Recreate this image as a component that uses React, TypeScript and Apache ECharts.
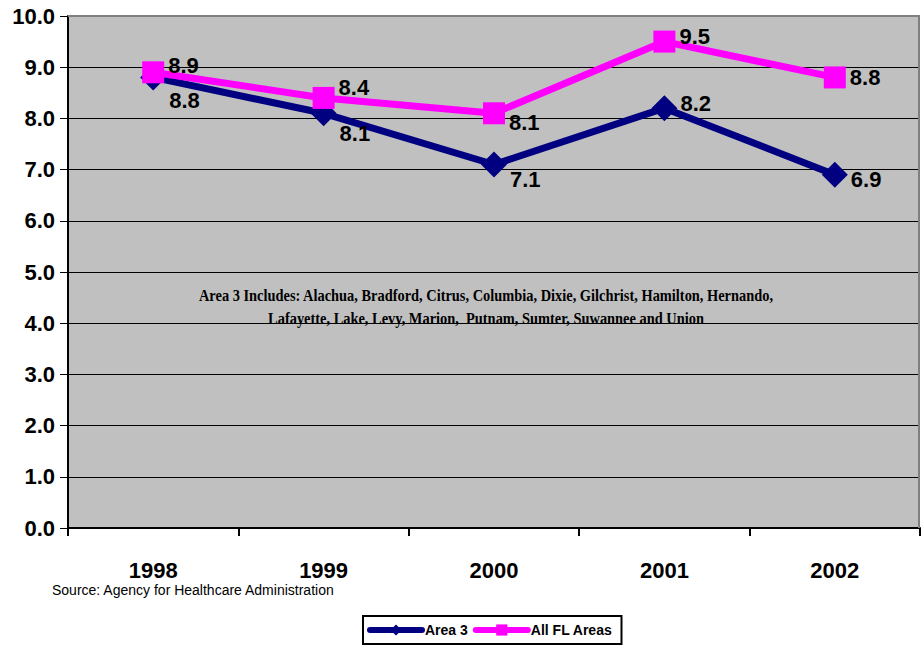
import React, { useEffect, useRef } from "react";
import * as echarts from "echarts";

const years = ["1998", "1999", "2000", "2001", "2002"];
const area3 = [8.8, 8.1, 7.1, 8.2, 6.9];
const allFL = [8.9, 8.4, 8.1, 9.5, 8.8];
const yTicks = [0, 1, 2, 3, 4, 5, 6, 7, 8, 9, 10];
const noteLines = [
  "Area 3 Includes: Alachua, Bradford, Citrus, Columbia, Dixie, Gilchrist, Hamilton, Hernando,",
  "Lafayette, Lake, Levy, Marion,  Putnam, Sumter, Suwannee and Union",
];
const sourceText = "Source: Agency for Healthcare Administration";

// label vertical offsets (styling only)
const area3LabelDy = [23, 20, 15, -5, 5];
const flLabelDy = [-7, -10, 9, -5, 0];

export default function App() {
  const ref = useRef<HTMLDivElement>(null);
  useEffect(() => {
    document.body.style.margin = "0";
    const chart = echarts.init(ref.current!, null, { renderer: "svg" });
    const labelFont = {
      fontFamily: "Liberation Sans, Arial, sans-serif",
      fontWeight: "bold" as const,
      fontSize: 22,
      color: "#000",
    };
    chart.setOption({
      animation: false,
      backgroundColor: "#fff",
      grid: { left: 68, top: 16, width: 852, height: 512, show: true, backgroundColor: "#C0C0C0", borderWidth: 0 },
      xAxis: {
        type: "category",
        data: years,
        boundaryGap: true,
        axisLine: { lineStyle: { color: "#000", width: 2 } },
        axisTick: { show: true, length: 8, lineStyle: { color: "#000", width: 2 }, alignWithLabel: false },
        axisLabel: { ...labelFont, margin: 31 },
      },
      yAxis: {
        type: "value",
        min: yTicks[0],
        max: yTicks[yTicks.length - 1],
        interval: 1,
        axisLine: { show: true, lineStyle: { color: "#000", width: 2 } },
        axisTick: { show: true, length: 8, lineStyle: { color: "#000", width: 1 } },
        axisLabel: { ...labelFont, margin: 13, formatter: (v: number) => v.toFixed(1) },
        splitLine: { show: true, lineStyle: { color: "#000", width: 1 } },
      },
      legend: {
        top: 616,
        left: 363,
        orient: "horizontal",
        borderColor: "#000",
        borderWidth: 2,
        padding: [7, 9, 7, 4],
        itemGap: 5,
        itemWidth: 52,
        itemHeight: 14,
        lineStyle: { width: 6, cap: "round" },
        textStyle: { fontFamily: "Liberation Sans, Arial, sans-serif", fontWeight: "bold", fontSize: 14, color: "#000", padding: [0, 0, 0, -2] },
        data: [{ name: "Area 3" }, { name: "All FL Areas" }],
      },
      series: [
        {
          name: "Area 3",
          type: "line",
          data: area3.map((v, i) => ({
            value: v,
            label: { offset: [0, area3LabelDy[i]] },
          })),
          symbol: "diamond",
          symbolSize: 26,
          lineStyle: { color: "#000080", width: 7 },
          itemStyle: { color: "#000080" },
          label: { show: true, position: "right", distance: 3, ...labelFont, formatter: (p: any) => p.value.toFixed(1) },
          z: 2,
        },
        {
          name: "All FL Areas",
          type: "line",
          data: allFL.map((v, i) => ({
            value: v,
            label: { offset: [0, flLabelDy[i]] },
          })),
          symbol: "rect",
          symbolSize: 22,
          lineStyle: { color: "#FF00FF", width: 7 },
          itemStyle: { color: "#FF00FF" },
          label: { show: true, position: "right", distance: 4, ...labelFont, formatter: (p: any) => p.value.toFixed(1) },
          z: 3,
        },
      ],
      graphic: [
        {
          type: "rect",
          shape: { x: 68, y: 15, width: 852, height: 2 },
          style: { fill: "#808080" },
          z: 1,
        },
        {
          type: "rect",
          shape: { x: 918, y: 15, width: 2, height: 513 },
          style: { fill: "#808080" },
          z: 1,
        },
        ...noteLines.map((t, i) => ({
          type: "text",
          x: 486,
          y: 295 + i * 23,
          scaleX: 0.9,
          style: {
            text: t,
            fontFamily: "Liberation Serif, Times New Roman, serif",
            fontWeight: "bold",
            fontSize: 16,
            fill: "#000",
            align: "center",
            verticalAlign: "middle",
          },
          z: 10,
        })),
        {
          type: "text",
          x: 52,
          y: 590,
          style: {
            text: sourceText,
            fontFamily: "Liberation Sans, Arial, sans-serif",
            fontSize: 14,
            fill: "#000",
            align: "left",
            verticalAlign: "middle",
          },
        },
      ],
    });
    return () => chart.dispose();
  }, []);
  return <div ref={ref} style={{ width: 922, height: 648 }} />;
}
